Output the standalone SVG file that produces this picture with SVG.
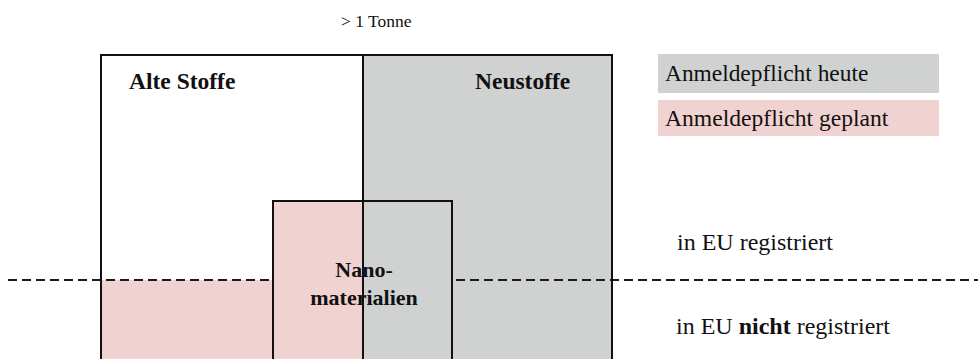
<svg xmlns="http://www.w3.org/2000/svg" width="978" height="359" viewBox="0 0 978 359">
<style>
.t{font-family:"Liberation Serif","Times New Roman",serif;fill:#111}
.b{font-weight:bold}
.box{stroke:#111;stroke-width:2;fill:none}
.grey{fill:#D0D2D1}
.pink{fill:#F0D2D0}
</style>
<rect width="978" height="359" fill="#fff"/>
<g id="fills">
<rect class="grey" x="363" y="55" width="249" height="310"/>
<rect class="pink" x="101" y="280" width="262" height="85"/>
</g>
<g id="connectors">
<line x1="8" y1="280" x2="978" y2="280" stroke="#1a1a1a" stroke-width="2.2" stroke-dasharray="9 5"/>
</g>
<g id="outer">
<rect class="box" x="101" y="55" width="511" height="320"/>
</g>
<g id="nano">
<rect class="pink" x="273" y="201" width="90" height="170"/>
<rect class="grey" x="363" y="201" width="89" height="170"/>
<rect class="box" x="273" y="201" width="179" height="170"/>
</g>
<g id="divider">
<line x1="363" y1="55" x2="363" y2="365" stroke="#111" stroke-width="2"/>
</g>
<g id="labels">
<text class="t" x="341" y="27" font-size="17.5">&gt; 1 Tonne</text>
<text class="t b" x="129" y="89" font-size="23.5">Alte Stoffe</text>
<text class="t b" x="475" y="89" font-size="23.5">Neustoffe</text>
<text class="t b" x="364" y="277" font-size="22" text-anchor="middle">Nano-</text>
<text class="t b" x="364" y="305" font-size="22" text-anchor="middle">materialien</text>
<text class="t" x="677" y="250" font-size="24">in EU registriert</text>
<text class="t" x="676" y="334" font-size="24">in EU <tspan class="b">nicht</tspan> registriert</text>
</g>
<g id="legend">
<rect class="grey" x="658" y="54" width="281" height="39"/>
<text class="t" x="665" y="81" font-size="23.4">Anmeldepflicht heute</text>
<rect class="pink" x="658" y="100" width="281" height="36"/>
<text class="t" x="665" y="126" font-size="23.6">Anmeldepflicht geplant</text>
</g>
</svg>
